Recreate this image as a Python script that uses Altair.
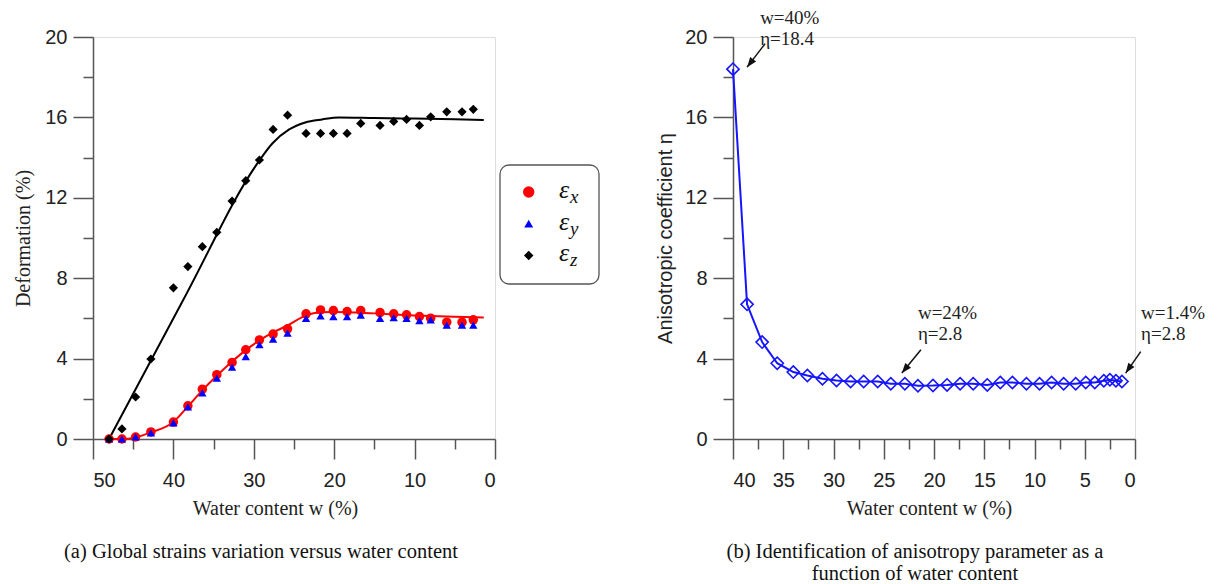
import math
import altair as alt
import pandas as pd

# ---------------- data: panel (a) global strains ----------------
w_strain = [48.0, 46.4, 44.7, 42.8, 40.0, 38.2, 36.4, 34.6, 32.7, 31.0, 29.3, 27.6, 25.8,
            23.5, 21.7, 20.1, 18.4, 16.7, 14.3, 12.6, 11.0, 9.4, 8.0, 6.0, 4.1, 2.7]
eps_x = [0.0, 0.0, 0.1, 0.35, 0.84, 1.65, 2.48, 3.2, 3.81, 4.44, 4.93, 5.22, 5.48,
         6.23, 6.42, 6.39, 6.34, 6.39, 6.29, 6.23, 6.18, 6.09, 6.01, 5.81, 5.81, 5.93]
eps_y = [0.0, 0.0, 0.1, 0.3, 0.8, 1.6, 2.29, 3.03, 3.58, 4.1, 4.69, 4.97, 5.27,
         6.0, 6.13, 6.09, 6.09, 6.16, 6.0, 6.04, 6.0, 5.89, 5.93, 5.66, 5.66, 5.66]
eps_z = [0.0, 0.5, 2.09, 3.98, 7.52, 8.58, 9.57, 10.28, 11.84, 12.85, 13.88, 15.4, 16.11,
         15.2, 15.2, 15.2, 15.2, 15.7, 15.6, 15.8, 15.9, 15.6, 16.03, 16.28, 16.28, 16.4]

# fitted trend lines
fit_z_w = [48.0, 38.8, 29.4, 27.7, 25.6, 23.6, 21.5, 19.4, 15.0, 10.0, 5.0, 1.4]
fit_z = [0.0, 6.9, 13.8, 14.7, 15.4, 15.75, 15.9, 16.0, 15.97, 15.94, 15.91, 15.87]
fit_x_w = [48.0, 46.4, 44.7, 42.8, 40.0, 38.2, 36.4, 34.5, 32.7, 31.0, 29.3, 27.6, 25.8,
           23.5, 21.7, 20.0, 15.0, 10.0, 5.0, 1.4]
fit_x = [0.0, 0.0, 0.08, 0.33, 0.85, 1.62, 2.42, 3.18, 3.85, 4.42, 4.9, 5.3, 5.65,
         6.15, 6.3, 6.32, 6.25, 6.15, 6.08, 6.05]

legend_subs = ["x", "y", "z"]
legend_colors = ["#ff0000", "#0000ff", "#000000"]
legend_shapes = ["circle", "triangle-up", "diamond"]

# ---------------- data: panel (b) anisotropy ----------------
w_eta = [40.0, 38.6, 37.1, 35.6, 34.0, 32.6, 31.1, 29.7, 28.3, 27.0, 25.6, 24.3, 22.9,
         21.6, 20.1, 18.7, 17.4, 16.1, 14.7, 13.4, 12.2, 10.8, 9.5, 8.3, 7.1, 5.9,
         4.9, 4.0, 3.1, 2.5, 1.9, 1.3]
eta = [18.4, 6.7, 4.82, 3.77, 3.33, 3.16, 3.0, 2.91, 2.86, 2.86, 2.86, 2.75, 2.75,
       2.65, 2.66, 2.69, 2.75, 2.75, 2.69, 2.81, 2.81, 2.75, 2.75, 2.81, 2.75, 2.75,
       2.81, 2.81, 2.9, 2.95, 2.9, 2.86]

ann_w = [37.3, 21.6, -0.6]
ann_eta = [21.4, 6.72, 6.72]
ann_text = ["w=40%\nη=18.4", "w=24%\nη=2.8", "w=1.4%\nη=2.8"]
arrow_w_tail = [36.8, 21.3, -0.57]
arrow_eta_tail = [19.67, 4.44, 4.35]
arrow_w_tip = [38.6, 23.2, 0.93]
arrow_eta_tip = [18.5, 3.28, 3.28]

# ---------------- styling ----------------
SERIF = "Liberation Serif"
SANS = "Liberation Sans"
AXC = "#555555"
PW, PH = 402, 402


def axis(values, major, title, title_font, lab_pad, title_pad, **kw):
    return alt.Axis(
        values=values, title=title, grid=False,
        labelExpr=f"datum.value % {major} === 0 ? format(datum.value, 'd') : ''",
        tickSize={"condition": {"test": f"datum.value % {major} === 0", "value": 20}, "value": 10},
        labelFont=SANS, labelFontSize=20, labelColor="#222222",
        titleFont=title_font, titleFontSize=20, titleFontWeight="normal", titleColor="#222222",
        domainColor=AXC, domainWidth=1.5, tickColor=AXC, tickWidth=1.5,
        labelPadding=lab_pad, titlePadding=title_pad, **kw)


yscale = alt.Scale(domain=[0, 20], nice=False)

# ---------------- panel (a) ----------------
df_a = pd.DataFrame({"w": w_strain, "ex": eps_x, "ey": eps_y, "ez": eps_z})
df_fz = pd.DataFrame({"w": fit_z_w, "v": fit_z})
df_fx = pd.DataFrame({"w": fit_x_w, "v": fit_x})

xa_axis = axis(list(range(0, 51, 5)), 10, "Water content w (%)", SERIF, 11, 8, titleX=182)
ya_axis = axis(list(range(0, 21, 2)), 4, "Deformation (%)", SERIF, 6, 11)
XA = alt.X("w:Q", scale=alt.Scale(domain=[0, 50], reverse=True, nice=False), axis=xa_axis)


def YA(field):
    return alt.Y(f"{field}:Q", scale=yscale, axis=ya_axis)


line_z = alt.Chart(df_fz).mark_line(color="black", strokeWidth=2, interpolate="monotone").encode(
    x=XA, y=YA("v"))
line_x = alt.Chart(df_fx).mark_line(color="#ff0000", strokeWidth=2, interpolate="monotone").encode(
    x=XA, y=YA("v"))
pts_x = alt.Chart(df_a).mark_point(shape="circle", filled=True, size=90, color="#ff0000", opacity=1).encode(
    x=XA, y=YA("ex"))
pts_y = alt.Chart(df_a).mark_point(shape="triangle-up", filled=True, size=70, color="#0000ff", opacity=1).encode(
    x=XA, y=YA("ey"))
pts_z = alt.Chart(df_a).mark_point(shape="diamond", filled=True, size=85, color="black", opacity=1).encode(
    x=XA, y=YA("ez"))

one = pd.DataFrame({"a": [0]})
leg_layers = [
    alt.Chart(one).mark_rect(fill="white", stroke="#555555", strokeWidth=1.3, cornerRadius=9).encode(
        x=alt.value(407), x2=alt.value(506), y=alt.value(128), y2=alt.value(247))
]
leg_sizes = [130, 80, 90]
for i, (sub, col, shp) in enumerate(zip(legend_subs, legend_colors, legend_shapes)):
    yy = 155 + 31.7 * i
    leg_layers.append(alt.Chart(one).mark_point(shape=shp, filled=True, color=col, size=leg_sizes[i], opacity=1).encode(
        x=alt.value(435.7), y=alt.value(yy)))
    leg_layers.append(alt.Chart(one).mark_text(text="ε", font=SERIF, fontStyle="italic", fontSize=26,
                                               align="left", baseline="middle", color="#111111").encode(
        x=alt.value(466), y=alt.value(yy - 2)))
    leg_layers.append(alt.Chart(one).mark_text(text=sub, font=SERIF, fontStyle="italic", fontSize=19,
                                               align="left", baseline="middle", color="#111111").encode(
        x=alt.value(477), y=alt.value(yy + 5)))

panel_a = alt.layer(line_z, line_x, pts_x, pts_y, pts_z, *leg_layers).properties(
    width=PW, height=PH,
    title=alt.TitleParams("(a) Global strains variation versus water content", orient="bottom",
                          anchor="middle", frame="group", dx=-33, offset=24,
                          font=SERIF, fontSize=20.5, fontWeight="normal", color="#111111"))

# ---------------- panel (b) ----------------
df_b = pd.DataFrame({"w": w_eta, "eta": eta})
df_ann = pd.DataFrame({"w": ann_w, "eta": ann_eta, "t": ann_text})
df_arr = pd.DataFrame({"w": arrow_w_tail, "eta": arrow_eta_tail, "w2": arrow_w_tip, "eta2": arrow_eta_tip})
px_w, px_e = PW / 40.0, PH / 20.0
df_arr["ang"] = [
    (math.degrees(math.atan2(-(b - a) * px_w, (d - c) * px_e)) + 360) % 360
    for a, b, c, d in zip(arrow_w_tail, arrow_w_tip, arrow_eta_tail, arrow_eta_tip)
]

xb_axis = axis([i * 2.5 for i in range(17)], 5, "Water content w (%)", SERIF, 11, 8, titleX=196)
yb_axis = axis(list(range(0, 21, 2)), 4, "Anisotropic coefficient η", SANS, 6, 9)
XB = alt.X("w:Q", scale=alt.Scale(domain=[0, 40], reverse=True, nice=False), axis=xb_axis)
YB = alt.Y("eta:Q", scale=yscale, axis=yb_axis)

line_b = alt.Chart(df_b).mark_line(color="#1515ff", strokeWidth=2).encode(x=XB, y=YB)
pts_b = alt.Chart(df_b).mark_point(shape="diamond", filled=False, size=150, color="#1515ff",
                                   strokeWidth=1.6, opacity=1).encode(x=XB, y=YB)
ann = alt.Chart(df_ann).mark_text(align="left", baseline="top", font=SERIF, fontSize=19,
                                  lineBreak="\n", lineHeight=21, color="#222222").encode(
    x=XB, y=YB, text="t:N")
arr = alt.Chart(df_arr).mark_rule(color="#111111", strokeWidth=1.5).encode(
    x=XB, y=YB, x2="w2:Q", y2="eta2:Q")
head = alt.Chart(df_arr).mark_point(shape="M0,0L0.75,2L-0.75,2Z", filled=True, size=100,
                                    color="#111111", opacity=1).encode(
    x=alt.X("w2:Q", scale=alt.Scale(domain=[0, 40], reverse=True, nice=False), axis=xb_axis),
    y=alt.Y("eta2:Q", scale=yscale, axis=yb_axis),
    angle=alt.Angle("ang:Q", scale=None))

panel_b = alt.layer(line_b, pts_b, arr, head, ann).properties(
    width=PW, height=PH,
    title=alt.TitleParams(["(b) Identification of anisotropy parameter as a", "function of water content"],
                          orient="bottom", anchor="middle", frame="group", dx=-19, offset=24,
                          lineHeight=21.5, font=SERIF, fontSize=20.5, fontWeight="normal", color="#111111"))

chart = alt.hconcat(panel_a, panel_b, spacing=238, bounds="flush").properties(
    padding={"left": 5, "top": 0, "right": 5, "bottom": 0}
).configure_view(stroke=None).configure(background="white").configure_axis(
    titleFont=SERIF, titleFontSize=20, titleFontWeight="normal")

chart.save("out.html", embed_options={"renderer": "svg", "actions": False})
